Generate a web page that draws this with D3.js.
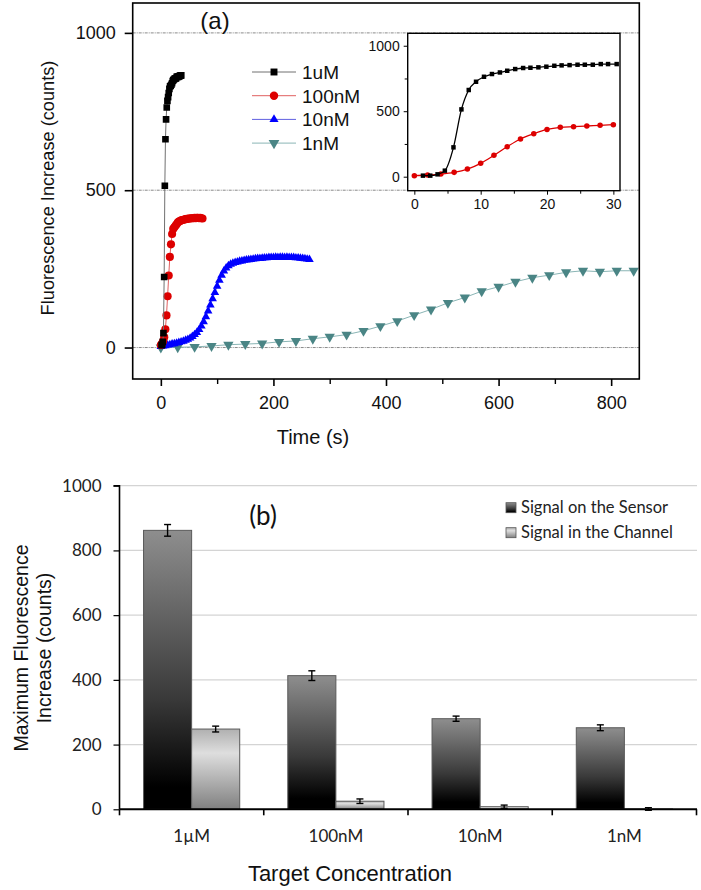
<!DOCTYPE html>
<html><head><meta charset="utf-8">
<script src="https://cdn.jsdelivr.net/npm/d3@7"></script>
<style>body{margin:0;background:#fff}svg{display:block}</style>
</head><body>
<svg id="c" width="701" height="890"></svg>
<script>
// ---- Panel (a) data ----
const t1uM = [1.3,2.4,3.5,4.6,5.9,7.1,8.2,9.3,10.5,11.7,12.9,14.0,15.2,16.4,17.5,18.7,19.9,21.1,22.2,23.4,24.6,25.7,26.9,28.1,29.2,30.5,31.6,32.8,33.9,35.1,36.3];
const v1uM = [8,8,18,46,224,514,662,725,763,784,796,809,822,830,832,835,840,847,850,852,855,855,855,860,860,860,862,862,864,864,865];
const t100nM = [0,2,4,6,8,10,12,14,16,18,20,22,24,26,28,30,32,34,36,38,40,42,44,46,48,50,52,54,56,58,60,62,64,66,68,70,72,74];
const v100nM = [8,13,20,33,58,102,163,229,288,328,361,377,382,387,392,397,400,402,404,405,406,407,408,409,409,410,410,411,411,411,412,411,412,412,411,412,411,410];
const t10nM = [0,4,8,12,16,20,24,28,32,36,40,44,48,52,56,60,64,68,72,76,80,84,88,92,96,100,104,108,112,116,120,124,128,132,136,140,144,148,152,156,160,164,168,172,176,180,184,188,192,196,200,204,208,212,216,220,224,228,232,236,240,244,248,252,256,260,264];
const v10nM = [3,5,6,8,9,11,12,14,16,18,20,23,26,30,35,41,48,57,68,82,98,116,135,155,175,195,214,230,243,253,260,265,268,270,272,274,275,277,278,279,280,281,282,283,283,284,285,285,286,286,286,287,286,287,287,286,287,286,286,286,285,285,284,283,282,281,280];
const t1nM = [0,30,60,90,120,150,180,210,240,270,300,330,360,390,420,450,480,510,540,570,600,630,660,690,720,750,780,810,840];
const v1nM = [0,1,2,5,9,11,13,18,21,28,34,41,53,68,84,103,121,142,159,179,193,209,222,230,239,244,241,244,244];
const seriesNames = ["1uM","100nM","10nM","1nM"];
const xTicksA = [0,200,400,600,800];
const yTicksA = [0,500,1000];
const insetXTicks = [0,10,20,30];
const insetYTicks = [0,500,1000];

// ---- Panel (b) data ----
const concentrations = ["1\u00b5M","100nM","10nM","1nM"];
const sensorMax = [862,413,280,252];
const sensorErr = [18,15,8,9];
const channelMax = [248,25,8,1];
const channelErr = [9,7,5,4];
const barSeries = ["Signal on the Sensor","Signal in the Channel"];
const yTicksB = [0,200,400,600,800,1000];

const svg = d3.select("#c");
const arial = "'Liberation Sans',Arial,sans-serif";
const calibri = "Lato,'Open Sans',sans-serif";
const fmt = d3.format("d");

// ================= Panel (a) =================
const xA = d3.scaleLinear().domain([-50,850]).range([132.7,639.3]);
const yA = d3.scaleLinear().domain([-100,1095]).range([379,3]);
const gA = svg.append("g");

gA.selectAll("line.grid").data(yTicksA).join("line")
  .attr("x1",xA(-50)).attr("x2",xA(850)).attr("y1",d=>yA(d)).attr("y2",d=>yA(d))
  .attr("stroke","#8a8a8a").attr("stroke-width",1).attr("stroke-dasharray","3,1,1,1");

const pal = {
  "1uM":{line:"#707070",mark:"#000",sym:d3.symbolSquare,size:44,rot:0},
  "100nM":{line:"#e06060",mark:"#dd0000",sym:d3.symbolCircle,size:52,rot:0},
  "10nM":{line:"#6060e0",mark:"#0000ff",sym:d3.symbolTriangle,size:32,rot:0},
  "1nM":{line:"#8ab5b5",mark:"#4a8585",sym:d3.symbolTriangle,size:46,rot:180}
};
const dataA = [
  {name:"1uM",t:t1uM,v:v1uM},
  {name:"100nM",t:t100nM,v:v100nM},
  {name:"10nM",t:t10nM,v:v10nM},
  {name:"1nM",t:t1nM,v:v1nM}
];
const defs = svg.append("defs");
defs.append("clipPath").attr("id","clipA").append("rect")
  .attr("x",132.7).attr("y",3).attr("width",639.3-132.7).attr("height",376);
const plotA = gA.append("g").attr("clip-path","url(#clipA)");
["1nM","10nM","100nM","1uM"].forEach(n=>{
  const s = dataA.find(d=>d.name===n);
  const pts = s.t.map((t,i)=>[t,s.v[i]]);
  const p = pal[n];
  plotA.append("path").datum(pts)
    .attr("d",d3.line().x(d=>xA(d[0])).y(d=>yA(d[1])))
    .attr("fill","none").attr("stroke",p.line).attr("stroke-width",1);
  plotA.selectAll(null).data(pts).join("path")
    .attr("d",d3.symbol().type(p.sym).size(p.size))
    .attr("transform",d=>`translate(${xA(d[0])},${yA(d[1])}) rotate(${p.rot})`)
    .attr("fill",p.mark);
});

gA.append("rect").attr("x",132.7).attr("y",3).attr("width",639.3-132.7).attr("height",376)
  .attr("fill","none").attr("stroke","#000").attr("stroke-width",1.6);

const gxA = gA.append("g").attr("transform","translate(0,379)")
  .call(d3.axisBottom(xA).tickValues(xTicksA).tickSize(7).tickPadding(10).tickFormat(fmt));
gxA.select(".domain").remove();
gxA.selectAll(".tick line").attr("stroke-width",1.6);
gxA.selectAll("text").attr("font-family",arial).attr("font-size",18).attr("fill","#111");
gA.append("g").attr("transform","translate(0,379)")
  .call(d3.axisBottom(xA).tickValues([100,300,500,700]).tickSize(5).tickFormat(""))
  .call(g=>{g.select(".domain").remove();g.selectAll("line").attr("stroke-width",1.4);});

const gyA = gA.append("g").attr("transform","translate(132.7,0)")
  .call(d3.axisLeft(yA).tickValues(yTicksA).tickSize(8).tickPadding(9).tickFormat(fmt));
gyA.select(".domain").remove();
gyA.selectAll(".tick line").attr("stroke-width",1.6);
gyA.selectAll("text").attr("font-family",arial).attr("font-size",18).attr("fill","#111");

gA.append("text").attr("transform","translate(54,188) rotate(-90)").attr("text-anchor","middle")
  .attr("font-family",arial).attr("font-size",18.2).attr("fill","#111").text("Fluorescence Increase (counts)");
gA.append("text").attr("x",313).attr("y",444).attr("text-anchor","middle")
  .attr("font-family",arial).attr("font-size",20).attr("fill","#111").text("Time (s)");
gA.append("text").attr("x",215).attr("y",29).attr("text-anchor","middle")
  .attr("font-family",arial).attr("font-size",24).attr("fill","#111").text("(a)");

const legA = gA.append("g");
seriesNames.forEach((n,i)=>{
  const y = 72 + i*23.7, p = pal[n];
  legA.append("line").attr("x1",252).attr("x2",296).attr("y1",y).attr("y2",y).attr("stroke",p.line).attr("stroke-width",1);
  legA.append("path").attr("d",d3.symbol().type(p.sym).size(p.size+4)())
    .attr("transform",`translate(274,${y}) rotate(${p.rot})`).attr("fill",p.mark);
  legA.append("text").attr("x",302).attr("y",y+7).attr("font-family",arial).attr("font-size",19)
    .attr("fill","#111").text(n);
});

// inset
const xI = d3.scaleLinear().domain([-1,31]).range([407.7,620]);
const yI = d3.scaleLinear().domain([-107,1095]).range([190.7,33.3]);
const gI = svg.append("g");
gI.append("rect").attr("x",407.7).attr("y",33.3).attr("width",620-407.7).attr("height",190.7-33.3)
  .attr("fill","#fff").attr("stroke","none");
const insetSeries = [
  {t:t100nM.filter(t=>t<=30.5),v:v100nM,col:"#dd0000",sym:d3.symbolCircle,size:24},
  {t:t1uM.filter(t=>t<=30.5),v:v1uM,col:"#000",sym:d3.symbolSquare,size:20}
];
insetSeries.forEach(s=>{
  const pts = s.t.map((t,i)=>[t,s.v[i]]);
  gI.append("path").datum(pts).attr("d",d3.line().curve(d3.curveMonotoneX).x(d=>xI(d[0])).y(d=>yI(d[1])))
    .attr("fill","none").attr("stroke",s.col).attr("stroke-width",1.3);
  gI.selectAll(null).data(pts).join("path").attr("d",d3.symbol().type(s.sym).size(s.size))
    .attr("transform",d=>`translate(${xI(d[0])},${yI(d[1])})`).attr("fill",s.col);
});
gI.append("rect").attr("x",407.7).attr("y",33.3).attr("width",620-407.7).attr("height",190.7-33.3)
  .attr("fill","none").attr("stroke","#000").attr("stroke-width",1.4);
const gxI = gI.append("g").attr("transform","translate(0,190.7)")
  .call(d3.axisBottom(xI).tickValues(insetXTicks).tickSize(4).tickPadding(4).tickFormat(fmt));
gxI.select(".domain").remove();
gxI.selectAll("text").attr("font-family",arial).attr("font-size",14).attr("fill","#111");
gI.append("g").attr("transform","translate(0,190.7)")
  .call(d3.axisBottom(xI).tickValues([5,15,25]).tickSize(3).tickFormat(""))
  .call(g=>g.select(".domain").remove());
const gyI = gI.append("g").attr("transform","translate(407.7,0)")
  .call(d3.axisLeft(yI).tickValues(insetYTicks).tickSize(4).tickPadding(4).tickFormat(fmt));
gyI.select(".domain").remove();
gyI.selectAll("text").attr("font-family",arial).attr("font-size",14).attr("fill","#111");
gI.append("g").attr("transform","translate(407.7,0)")
  .call(d3.axisLeft(yI).tickValues([250,750]).tickSize(3).tickFormat(""))
  .call(g=>g.select(".domain").remove());

// ================= Panel (b) =================
const gd = defs.append("linearGradient").attr("id","gDark").attr("x1",0).attr("y1",0).attr("x2",0).attr("y2",1);
gd.append("stop").attr("offset","0%").attr("stop-color","#8e8e8e");
gd.append("stop").attr("offset","60%").attr("stop-color","#3a3a3a");
gd.append("stop").attr("offset","92%").attr("stop-color","#000");
gd.append("stop").attr("offset","100%").attr("stop-color","#000");
const gl = defs.append("linearGradient").attr("id","gLight").attr("x1",0).attr("y1",0).attr("x2",0).attr("y2",1);
gl.append("stop").attr("offset","0%").attr("stop-color","#b0b0b0");
gl.append("stop").attr("offset","30%").attr("stop-color","#dedede");
gl.append("stop").attr("offset","100%").attr("stop-color","#808080");

const yB = d3.scaleLinear().domain([0,1000]).range([809.3,485.7]);
const xB = d3.scaleBand().domain(concentrations).range([119.5,696.5]).paddingInner(1/3).paddingOuter(1/6);
const xSub = d3.scaleBand().domain(barSeries).range([0,xB.bandwidth()]);
const gB = svg.append("g");

gB.selectAll("line.gb").data(yTicksB.filter(d=>d>0)).join("line")
  .attr("x1",119.5).attr("x2",697).attr("y1",d=>yB(d)).attr("y2",d=>yB(d))
  .attr("stroke","#d4d4d4").attr("stroke-width",1.2);

const bars = [];
concentrations.forEach((c,i)=>{
  bars.push({c,s:barSeries[0],v:sensorMax[i],e:sensorErr[i],fill:"url(#gDark)"});
  bars.push({c,s:barSeries[1],v:channelMax[i],e:channelErr[i],fill:"url(#gLight)"});
});
bars.forEach(b=>{
  const x = xB(b.c)+xSub(b.s), w = xSub.bandwidth();
  gB.append("rect").attr("x",x).attr("y",yB(b.v)).attr("width",w).attr("height",yB(0)-yB(b.v))
    .attr("fill",b.fill).attr("stroke","#5a5a5a").attr("stroke-width",1);
  const cx = x + w/2;
  gB.append("line").attr("x1",cx).attr("x2",cx).attr("y1",yB(b.v+b.e)).attr("y2",yB(b.v-b.e))
    .attr("stroke","#000").attr("stroke-width",1.4);
  [b.v+b.e,b.v-b.e].forEach(v=>gB.append("line").attr("x1",cx-3.5).attr("x2",cx+3.5)
    .attr("y1",yB(v)).attr("y2",yB(v)).attr("stroke","#000").attr("stroke-width",1.4));
});

const gyB = gB.append("g").attr("transform","translate(119.5,0)")
  .call(d3.axisLeft(yB).tickValues(yTicksB).tickSize(6).tickPadding(12).tickFormat(fmt));
gyB.select(".domain").attr("d",`M-6,${yB(1000)}H0V${yB(0)}`).attr("stroke-width",1.6);
gyB.selectAll(".tick line").attr("stroke-width",1.2);
gyB.selectAll("text").attr("font-family",calibri).attr("font-size",17).attr("fill","#222");

const gxB = gB.append("g").attr("transform",`translate(0,${yB(0)})`);
gxB.append("line").attr("x1",119.5).attr("x2",697).attr("y1",0).attr("y2",0).attr("stroke","#000").attr("stroke-width",2);
const bounds = d3.range(concentrations.length+1).map(i=>119.5+i*xB.step());
gxB.selectAll("line.tk").data(bounds).join("line").attr("x1",d=>d).attr("x2",d=>d).attr("y1",0).attr("y2",6)
  .attr("stroke","#000").attr("stroke-width",1.6);
gxB.selectAll("text").data(concentrations).join("text")
  .attr("x",c=>xB(c)+xB.bandwidth()/2).attr("y",33).attr("text-anchor","middle")
  .attr("font-family",calibri).attr("font-size",17).attr("fill","#222").text(c=>c);

gB.append("text").attr("x",350).attr("y",881).attr("text-anchor","middle")
  .attr("font-family",arial).attr("font-size",22).attr("fill","#111").text("Target Concentration");
gB.append("text").attr("transform","translate(28,648) rotate(-90)").attr("text-anchor","middle")
  .attr("font-family",arial).attr("font-size",19.5).attr("fill","#111").text("Maximum Fluorescence");
gB.append("text").attr("transform","translate(51,648) rotate(-90)").attr("text-anchor","middle")
  .attr("font-family",arial).attr("font-size",19.5).attr("fill","#111").text("Increase (counts)");
gB.append("text").attr("x",263).attr("y",525).attr("text-anchor","middle")
  .attr("font-family",calibri).attr("font-size",26).attr("fill","#111").text("(b)");

barSeries.forEach((s,i)=>{
  const y = 507.7 + i*25;
  gB.append("rect").attr("x",506).attr("y",y-5).attr("width",10).attr("height",10)
    .attr("fill",i===0?"url(#gDark)":"url(#gLight)").attr("stroke","#555").attr("stroke-width",0.8);
  gB.append("text").attr("x",521).attr("y",y+5).attr("font-family",calibri).attr("font-size",16.5)
    .attr("fill","#222").text(s);
});
</script>
</body></html>
